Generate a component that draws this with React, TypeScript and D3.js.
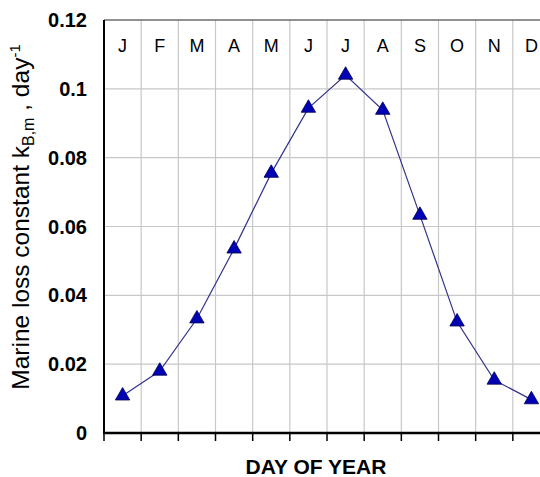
import React, { useEffect, useRef } from 'react';
import * as d3 from 'd3';

const months = ['J', 'F', 'M', 'A', 'M', 'J', 'J', 'A', 'S', 'O', 'N', 'D'];
const lossValues = [0.0108, 0.018, 0.0332, 0.0535, 0.0755, 0.0944, 0.104, 0.0938, 0.0633, 0.0323, 0.0154, 0.0097];
const yTicks = [0, 0.02, 0.04, 0.06, 0.08, 0.1, 0.12];

const App = () => {
  const svgRef = useRef<SVGSVGElement>(null);

  useEffect(() => {
    const svg = d3.select(svgRef.current).attr('width', 540).attr('height', 477);
    svg.selectAll('*').remove();

    const left = 104;
    const right = 550;
    const top = 20;
    const bottom = 433;
    const font = 'Liberation Sans, Arial, sans-serif';

    const x = d3.scaleLinear().domain([0, 12]).range([left, right]);
    const y = d3.scaleLinear().domain([0, 0.12]).range([bottom, top]);

    const g = svg.append('g');

    // grid
    g.selectAll('.vgrid')
      .data(d3.range(1, 12))
      .enter().append('line')
      .attr('x1', d => x(d)).attr('x2', d => x(d))
      .attr('y1', top).attr('y2', bottom)
      .attr('stroke', '#c8c8c8').attr('stroke-width', 1.2);

    g.selectAll('.hgrid')
      .data(yTicks.slice(1, -1))
      .enter().append('line')
      .attr('x1', left).attr('x2', right)
      .attr('y1', d => y(d)).attr('y2', d => y(d))
      .attr('stroke', '#c8c8c8').attr('stroke-width', 1.2);

    // top border
    g.append('line')
      .attr('x1', left).attr('x2', right)
      .attr('y1', top).attr('y2', top)
      .attr('stroke', '#6e6e6e').attr('stroke-width', 1.5);

    // axes
    g.append('line')
      .attr('x1', left).attr('x2', left)
      .attr('y1', top).attr('y2', bottom)
      .attr('stroke', '#000').attr('stroke-width', 2);
    g.append('line')
      .attr('x1', left - 1).attr('x2', right)
      .attr('y1', bottom).attr('y2', bottom)
      .attr('stroke', '#000').attr('stroke-width', 2.5);

    g.selectAll('.xtick')
      .data(d3.range(0, 12))
      .enter().append('line')
      .attr('x1', d => x(d)).attr('x2', d => x(d))
      .attr('y1', bottom).attr('y2', bottom + 8)
      .attr('stroke', '#000').attr('stroke-width', 1.5);

    // month labels
    g.selectAll('.month')
      .data(months)
      .enter().append('text')
      .attr('x', (d, i) => x(i + 0.5))
      .attr('y', 52)
      .attr('text-anchor', 'middle')
      .attr('font-family', font)
      .attr('font-size', 18)
      .attr('fill', '#000')
      .text(d => d);

    // y tick labels
    g.selectAll('.ylab')
      .data(yTicks)
      .enter().append('text')
      .attr('x', 87)
      .attr('y', d => y(d) + 7)
      .attr('text-anchor', 'end')
      .attr('font-family', font)
      .attr('font-size', 20)
      .attr('font-weight', 'bold')
      .attr('fill', '#000')
      .text(d => (d === 0 ? '0' : String(+d.toFixed(2))));

    // line + markers
    const line = d3.line<number>()
      .x((d, i) => x(i + 0.5))
      .y(d => y(d));

    g.append('path')
      .datum(lossValues)
      .attr('fill', 'none')
      .attr('stroke', '#33338a')
      .attr('stroke-width', 1.2)
      .attr('d', line);

    const tri = d3.symbol().type(d3.symbolTriangle).size(90);
    g.selectAll('.pt')
      .data(lossValues)
      .enter().append('path')
      .attr('d', tri)
      .attr('transform', (d, i) => `translate(${x(i + 0.5)},${y(d)})`)
      .attr('fill', '#0000b4')
      .attr('stroke', '#000050')
      .attr('stroke-width', 0.8);

    // axis titles
    g.append('text')
      .attr('x', 316)
      .attr('y', 474)
      .attr('text-anchor', 'middle')
      .attr('font-family', font)
      .attr('font-size', 21)
      .attr('font-weight', 'bold')
      .attr('fill', '#000')
      .text('DAY OF YEAR');

    const yl = g.append('text')
      .attr('transform', 'translate(29,217) rotate(-90)')
      .attr('text-anchor', 'middle')
      .attr('font-family', font)
      .attr('font-size', 24.5)
      .attr('fill', '#000');
    yl.append('tspan').text('Marine loss constant k');
    yl.append('tspan').attr('font-size', 16).attr('dy', 5).text('B,m');
    yl.append('tspan').attr('dy', -5).text(' , day');
    yl.append('tspan').attr('font-size', 15).attr('dy', -9).text('-1');
  }, []);

  return <svg ref={svgRef} style={{ position: 'absolute', left: 0, top: 0 }}></svg>;
};

export default App;
